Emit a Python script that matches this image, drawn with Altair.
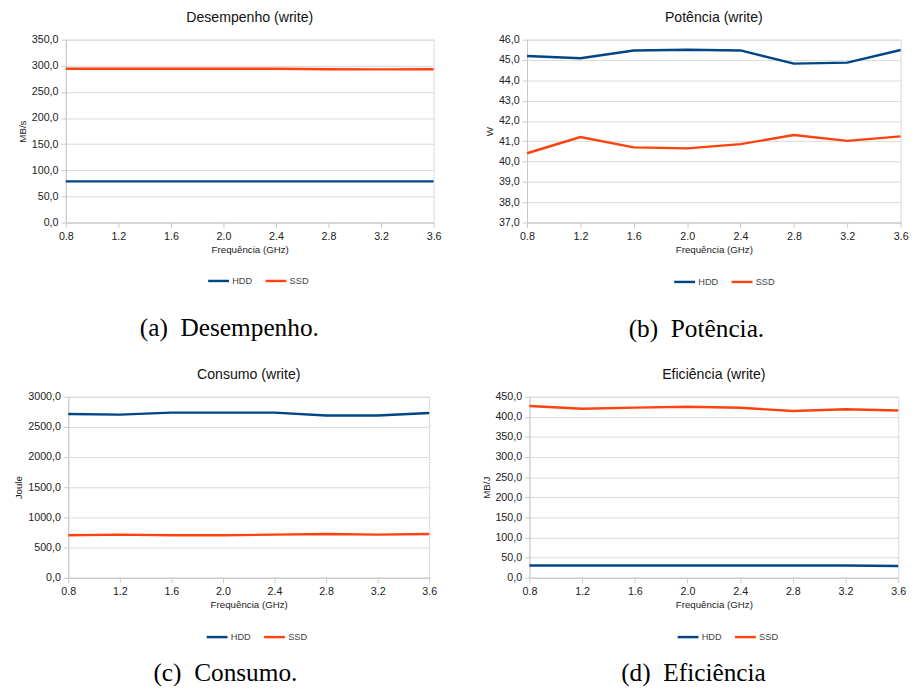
import altair as alt
import pandas as pd

freq = [0.8, 1.2, 1.6, 2.0, 2.4, 2.8, 3.2, 3.6]
series = ["HDD", "SSD"]
colors = ["#004586", "#ff420e"]

desemp_hdd = [78.8, 78.8, 78.8, 78.8, 78.8, 78.8, 78.8, 78.8]
desemp_ssd = [294.2, 294.2, 294.2, 294.3, 294.2, 293.3, 293.2, 293.3]

pot_hdd = [45.20, 45.09, 45.47, 45.50, 45.47, 44.82, 44.87, 45.49]
pot_ssd = [40.41, 41.21, 40.70, 40.65, 40.86, 41.31, 41.02, 41.24]

cons_hdd = [2715, 2704, 2737, 2737, 2737, 2688, 2688, 2731]
cons_ssd = [704, 715, 704, 704, 715, 726, 715, 726]

efic_hdd = [30.5, 30.5, 30.5, 30.5, 30.5, 30.5, 30.3, 29.0]
efic_ssd = [427.0, 420.0, 423.0, 425.0, 422.5, 414.5, 419.0, 416.0]

y_desemp = [0, 50, 100, 150, 200, 250, 300, 350]
y_pot = [37, 38, 39, 40, 41, 42, 43, 44, 45, 46]
y_cons = [0, 500, 1000, 1500, 2000, 2500, 3000]
y_efic = [0, 50, 100, 150, 200, 250, 300, 350, 400, 450]

SANS = "Liberation Sans"
SERIF = "Liberation Serif"


def make_df(hdd, ssd):
    rows = []
    for f, v in zip(freq, hdd):
        rows.append({"freq": f, "value": v, "serie": "HDD"})
    for f, v in zip(freq, ssd):
        rows.append({"freq": f, "value": v, "serie": "SSD"})
    return pd.DataFrame(rows)


def panel(hdd, ssd, title, ytitle, yvals, w, h, caption, lx, ly, cap_offset):
    df = make_df(hdd, ssd)
    chart = alt.Chart(df).mark_line(strokeWidth=2.5).encode(
        x=alt.X("freq:Q",
                scale=alt.Scale(domain=[freq[0], freq[-1]], nice=False, zero=False),
                axis=alt.Axis(values=freq, format=".1f", title="Frequência (GHz)",
                              labelFlush=False)),
        y=alt.Y("value:Q",
                scale=alt.Scale(domain=[yvals[0], yvals[-1]], nice=False, zero=False),
                axis=alt.Axis(values=yvals, title=ytitle, labelFlush=False,
                              labelExpr="replace(format(datum.value, '.1f'), '.', ',')")),
        color=alt.Color("serie:N",
                        scale=alt.Scale(domain=series, range=colors),
                        legend=alt.Legend(title=None, orient="none", legendX=lx, legendY=ly,
                                          direction="horizontal", symbolType="stroke",
                                          symbolSize=460, symbolStrokeWidth=2.5,
                                          labelFontSize=9.5, labelFont=SANS, labelColor="#444",
                                          labelOffset=2, columnPadding=8)),
        detail="serie:N",
    ).properties(
        width=w, height=h,
        title=alt.Title(title, fontSize=14.5, fontWeight="normal", font=SANS,
                        color="#111", frame="group", anchor="middle", offset=9),
    )
    return alt.vconcat(chart, title=alt.Title(caption, orient="bottom", font=SERIF,
                                              fontSize=26, fontWeight="normal",
                                              color="#000", anchor="middle",
                                              offset=cap_offset)
                       ).resolve_scale(color="independent")


pa = panel(desemp_hdd, desemp_ssd, "Desempenho (write)", "MB/s", y_desemp, 378, 188,
           "(a)\u00a0\u00a0Desempenho.", 145, 236, 30)
pb = panel(pot_hdd, pot_ssd, "Potência (write)", "W", y_pot, 384, 188,
           "(b)\u00a0\u00a0Potência.", 150, 237, 30)
pc = panel(cons_hdd, cons_ssd, "Consumo (write)", "Joule", y_cons, 371, 186,
           "(c)\u00a0\u00a0Consumo.", 141, 235, 19)
pd_ = panel(efic_hdd, efic_ssd, "Eficiência (write)", "MB/J", y_efic, 379, 186,
            "(d)\u00a0\u00a0Eficiência", 151, 235, 19)

row1 = alt.hconcat(pa, pb, spacing=43).resolve_scale(color="independent")
row2 = alt.hconcat(pc, pd_, spacing=43).resolve_scale(color="independent")

chart = alt.vconcat(row1, row2, spacing=25, center=True).resolve_scale(
    color="independent").properties(
    padding={"left": 5, "top": -8, "right": 0, "bottom": 0},
).configure_view(
    stroke="#d9d9d9", strokeWidth=1,
).configure_axis(
    labelFont=SANS, titleFont=SANS, labelFontSize=11, titleFontSize=10,
    titleFontWeight="normal", labelColor="#222", titleColor="#222",
    gridColor="#dadada", gridWidth=1, domainColor="#c8c8c8", tickColor="#c8c8c8",
    tickSize=5, labelPadding=3, titlePadding=4, labelFlush=False,
).configure_axisX(grid=False).configure_axisY(grid=True)

chart.save("out.html", embed_options={"renderer": "svg", "actions": False})
